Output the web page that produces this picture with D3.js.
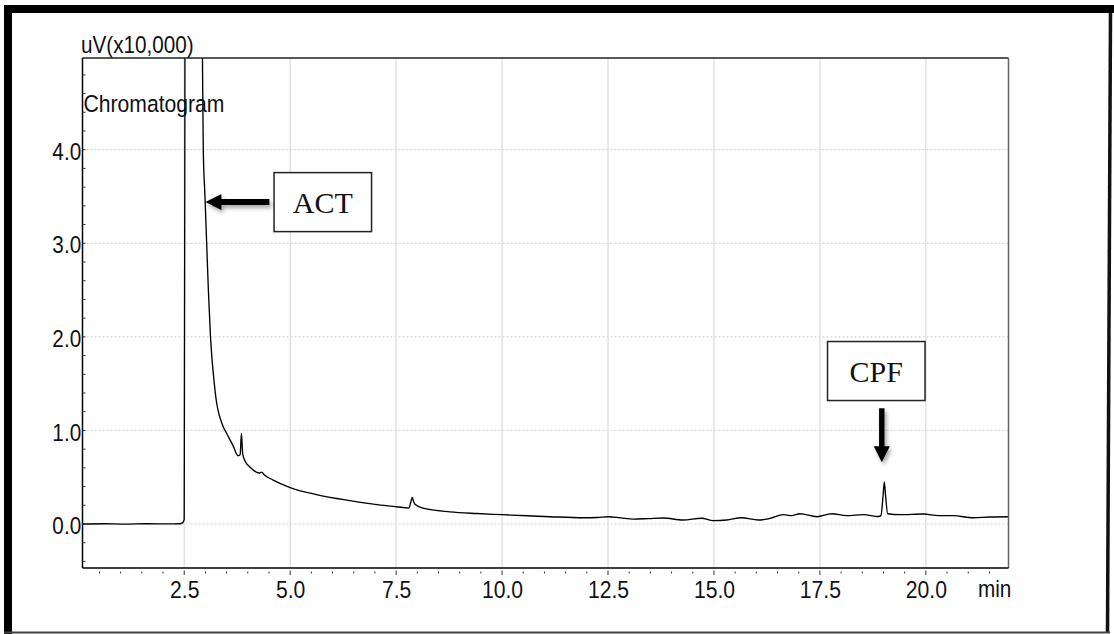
<!DOCTYPE html>
<html>
<head>
<meta charset="utf-8">
<script src="https://cdn.jsdelivr.net/npm/d3@7"></script>
<style>
body { margin: 0; background: #fff; }
svg { display: block; }
</style>
</head>
<body>
<svg id="chart" width="1114" height="634"></svg>
<script>
// retention time (min) and detector signal (uV x 10,000)
var times = [0.10, 0.60, 1.10, 1.60, 2.10, 2.40, 2.46, 2.50, 2.52, 2.70, 2.91, 2.93, 2.95, 2.99, 3.03, 3.07, 3.12, 3.21, 3.27, 3.33, 3.37, 3.42, 3.50, 3.66, 3.77, 3.82, 3.85, 3.88, 3.93, 4.05, 4.28, 4.33, 4.38, 4.60, 5.00, 5.62, 6.41, 7.00, 7.51, 7.80, 7.85, 7.88, 7.92, 7.98, 8.14, 8.77, 9.40, 10.00, 10.60, 11.13, 11.92, 12.25, 12.51, 12.80, 13.10, 13.45, 13.80, 14.27, 14.71, 14.98, 15.30, 15.65, 16.05, 16.32, 16.64, 16.83, 17.03, 17.43, 17.78, 18.13, 18.53, 18.88, 18.94, 18.99, 19.02, 19.05, 19.10, 19.39, 19.94, 20.30, 20.65, 21.12, 21.50, 22.00];
var signal = [0.000, 0.003, -0.001, 0.003, 0.001, 0.003, 0.012, 0.05, 6.0, 30.0, 6.0, 5.0, 4.0, 3.5, 3.0, 2.5, 2.0, 1.5, 1.28, 1.16, 1.10, 1.04, 0.97, 0.83, 0.73, 0.74, 0.97, 0.75, 0.68, 0.61, 0.545, 0.555, 0.53, 0.47, 0.39, 0.315, 0.25, 0.21, 0.185, 0.17, 0.24, 0.285, 0.23, 0.20, 0.17, 0.13, 0.112, 0.10, 0.088, 0.078, 0.067, 0.07, 0.078, 0.065, 0.053, 0.058, 0.064, 0.043, 0.062, 0.036, 0.043, 0.067, 0.043, 0.06, 0.10, 0.089, 0.11, 0.078, 0.11, 0.089, 0.10, 0.08, 0.09, 0.30, 0.45, 0.30, 0.11, 0.10, 0.107, 0.09, 0.089, 0.067, 0.075, 0.078];

var xTicks = [2.5, 5.0, 7.5, 10.0, 12.5, 15.0, 17.5, 20.0];
var yTicks = [0.0, 1.0, 2.0, 3.0, 4.0];

// peak labels: where the arrow points and where the box sits
var peakNames = ['ACT', 'CPF'];
var arrowTimes = [3.0, 18.96];
var arrowLevels = [3.44, 0.66];
var boxTimes = [5.77, 18.83];
var boxLevels = [3.44, 1.635];

var svg = d3.select('#chart');
var plotLeft = 82.5, plotRight = 1008.5, plotTop = 58, plotBottom = 568;
var sansFont = '"Liberation Sans", Arial, sans-serif';
var squeeze = 0.9; // the instrument font is a little condensed

var x = d3.scaleLinear().domain([0.1, 21.95]).range([plotLeft, plotRight]);
var y = d3.scaleLinear().domain([-0.47, 4.98]).range([plotBottom, plotTop]);

var defs = svg.append('defs');
defs.append('clipPath').attr('id', 'plotclip')
    .append('rect')
    .attr('x', plotLeft).attr('y', plotTop)
    .attr('width', plotRight - plotLeft).attr('height', plotBottom - plotTop);
defs.append('filter').attr('id', 'shadow')
    .attr('x', '-50%').attr('y', '-50%').attr('width', '200%').attr('height', '200%')
    .append('feDropShadow')
    .attr('dx', 2).attr('dy', 3).attr('stdDeviation', 2)
    .attr('flood-color', '#000').attr('flood-opacity', 0.35);

// outer frame
svg.append('rect').attr('x', 4).attr('y', 5).attr('width', 1110).attr('height', 8).attr('fill', '#000');
svg.append('rect').attr('x', 4).attr('y', 5).attr('width', 8).attr('height', 629).attr('fill', '#000');
svg.append('line').attr('x1', 1110.5).attr('y1', 13).attr('x2', 1107.5).attr('y2', 633)
    .attr('stroke', '#111').attr('stroke-width', 3.5);
svg.append('line').attr('x1', 4).attr('y1', 632.5).attr('x2', 1110).attr('y2', 632.5)
    .attr('stroke', '#444').attr('stroke-width', 2);

// grid
svg.append('g').selectAll('line').data(xTicks).enter().append('line')
    .attr('x1', d => x(d)).attr('x2', d => x(d))
    .attr('y1', plotTop).attr('y2', plotBottom)
    .attr('stroke', '#dedede').attr('stroke-width', 1.3);
svg.append('g').selectAll('line').data(yTicks).enter().append('line')
    .attr('x1', plotLeft).attr('x2', plotRight)
    .attr('y1', d => y(d)).attr('y2', d => y(d))
    .attr('stroke', '#d6d6d6').attr('stroke-width', 1.2)
    .attr('stroke-dasharray', '2,2');

// signal trace
var line = d3.line()
    .x((d, i) => x(times[i]))
    .y(d => y(d))
    .curve(d3.curveMonotoneX);

svg.append('path')
    .datum(signal)
    .attr('clip-path', 'url(#plotclip)')
    .attr('fill', 'none')
    .attr('stroke', '#000')
    .attr('stroke-width', 1.35)
    .attr('d', line);

// plot border
svg.append('line').attr('x1', plotLeft).attr('x2', plotRight).attr('y1', plotTop).attr('y2', plotTop)
    .attr('stroke', '#222').attr('stroke-width', 1.3);
svg.append('line').attr('x1', plotRight).attr('x2', plotRight).attr('y1', plotTop).attr('y2', plotBottom)
    .attr('stroke', '#666').attr('stroke-width', 1.5);
svg.append('line').attr('x1', plotLeft).attr('x2', plotLeft).attr('y1', plotTop).attr('y2', plotBottom)
    .attr('stroke', '#000').attr('stroke-width', 1.5);
svg.append('line').attr('x1', plotLeft).attr('x2', plotRight).attr('y1', plotBottom).attr('y2', plotBottom)
    .attr('stroke', '#000').attr('stroke-width', 1.6);

// small ticks, detached below the x axis and inside the y axis
svg.append('g').selectAll('line').data(d3.range(0.5, 22, 0.5)).enter().append('line')
    .attr('x1', d => x(d)).attr('x2', d => x(d))
    .attr('y1', d => d % 2.5 === 0 ? plotBottom + 2.5 : plotBottom + 3.5)
    .attr('y2', d => d % 2.5 === 0 ? plotBottom + 7 : plotBottom + 5.5)
    .attr('stroke', '#333').attr('stroke-width', 1);
svg.append('g').selectAll('line').data(d3.range(-4, 49, 2).map(d => d / 10)).enter().append('line')
    .attr('x1', plotLeft).attr('x2', plotLeft + 3)
    .attr('y1', d => y(d)).attr('y2', d => y(d))
    .attr('stroke', '#333').attr('stroke-width', 1);

// axes labels
var xAxis = svg.append('g')
    .attr('transform', 'translate(0,' + plotBottom + ')')
    .call(d3.axisBottom(x).tickValues(xTicks).tickFormat(d3.format('.1f')).tickSize(0).tickPadding(13));
xAxis.select('.domain').remove();
xAxis.selectAll('text')
    .attr('transform', 'scale(' + squeeze + ',1)')
    .style('font-family', sansFont)
    .style('font-size', '23.5px')
    .attr('fill', '#111');

var yAxis = svg.append('g')
    .attr('transform', 'translate(' + plotLeft + ',0)')
    .call(d3.axisLeft(y).tickValues(yTicks).tickFormat(d3.format('.1f')).tickSize(0).tickPadding(1.5));
yAxis.select('.domain').remove();
yAxis.selectAll('text')
    .attr('dy', '0.42em')
    .attr('transform', 'scale(' + squeeze + ',1)')
    .style('font-family', sansFont)
    .style('font-size', '23px')
    .attr('fill', '#111');

function label(tx, ty, size, str) {
    svg.append('text')
        .attr('transform', 'translate(' + tx + ',' + ty + ') scale(' + squeeze + ',1)')
        .style('font-family', sansFont)
        .style('font-size', size + 'px')
        .attr('fill', '#111')
        .text(str);
}
label(81, 53, 23, 'uV(x10,000)');
label(83.5, 112, 23.5, 'Chromatogram');
label(978, 597, 23, 'min');

// peak annotations: ACT arrow points left, CPF arrow points down
var arrowLen = [64, 54];
peakNames.forEach(function (name, i) {
    var tx = x(arrowTimes[i]), ty = y(arrowLevels[i]);
    var L = arrowLen[i], hl = 16, hw = 8, sw = 3;
    var pts;
    if (i === 0) {
        pts = [[tx, ty], [tx + hl, ty - hw], [tx + hl, ty - sw], [tx + L, ty - sw],
               [tx + L, ty + sw], [tx + hl, ty + sw], [tx + hl, ty + hw]];
    } else {
        sw = 2.7;
        pts = [[tx, ty], [tx - hw, ty - hl], [tx - sw, ty - hl], [tx - sw, ty - L],
               [tx + sw, ty - L], [tx + sw, ty - hl], [tx + hw, ty - hl]];
    }
    svg.append('path')
        .attr('d', 'M' + pts.join('L') + 'Z')
        .attr('fill', '#000')
        .attr('filter', 'url(#shadow)');

    var bx = x(boxTimes[i]), by = y(boxLevels[i]);
    var bw = 97.5, bh = 59;
    svg.append('rect')
        .attr('x', bx - bw / 2).attr('y', by - bh / 2)
        .attr('width', bw).attr('height', bh)
        .attr('fill', '#fff').attr('stroke', '#222').attr('stroke-width', 1.5);
    svg.append('text')
        .attr('x', bx).attr('y', by)
        .attr('dy', '0.36em')
        .attr('text-anchor', 'middle')
        .style('font-family', '"Liberation Serif", "Times New Roman", serif')
        .style('font-size', '30px')
        .attr('fill', '#111')
        .text(name);
});
</script>
</body>
</html>
